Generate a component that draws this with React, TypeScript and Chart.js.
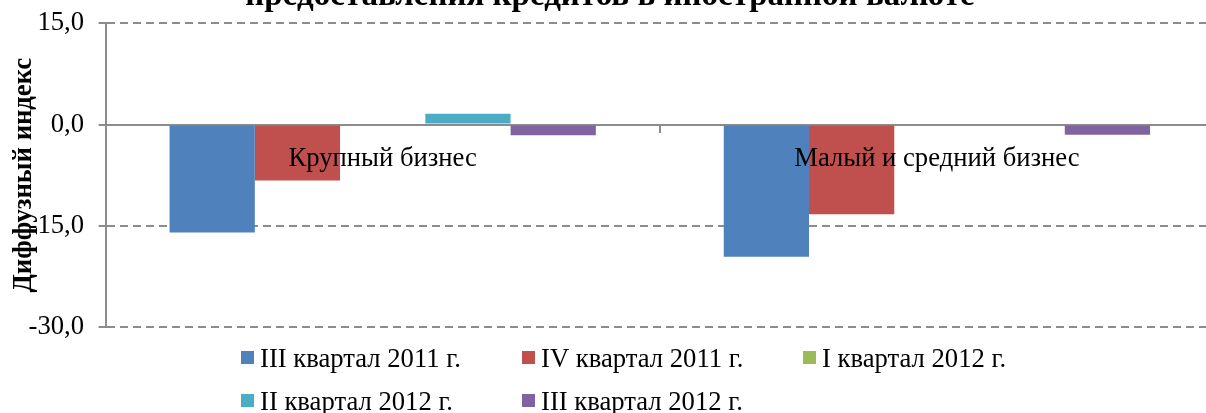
import React, { useEffect, useRef } from "react";
import { Chart, registerables } from "chart.js";

Chart.register(...registerables);

const categories = ["Крупный бизнес", "Малый и средний бизнес"];
const seriesLabels = [
  "III квартал 2011 г.",
  "IV квартал 2011 г.",
  "I квартал 2012 г.",
  "II квартал 2012 г.",
  "III квартал 2012 г.",
];
const q3_2011 = [-16.0, -19.6];
const q4_2011 = [-8.3, -13.3];
const q1_2012 = [0.0, 0.0];
const q2_2012 = [1.6, 0.0];
const q3_2012 = [-1.6, -1.5];
const yMin = -30;
const yMax = 15;
const yStep = 15;
const titleText = "предоставления кредитов в иностранной валюте";
const yTitle = "Диффузный индекс";

const colors = ["#4F81BD", "#C0504D", "#9BBB59", "#4BACC6", "#8064A2"];
const FONT = "'Liberation Serif', 'Times New Roman', serif";
const GRID = "#8C8C8C";

const overlayPlugin = {
  id: "overlay",
  afterDraw(chart: any) {
    const ctx = chart.ctx;
    const xs = chart.scales.x;
    const ys = chart.scales.y;
    ctx.save();
    // title (second line, mostly clipped at top)
    ctx.fillStyle = "#000";
    ctx.font = `bold 33px ${FONT}`;
    ctx.textAlign = "center";
    ctx.textBaseline = "alphabetic";
    ctx.fillText(titleText, 610, 5);
    // category labels, drawn over the bars just below the zero line
    ctx.font = `26.67px ${FONT}`;
    const zeroY = ys.getPixelForValue(0);
    chart.data.labels.forEach((lab: string, i: number) => {
      ctx.fillText(lab, xs.getPixelForValue(i), zeroY + 41);
    });
    // legend
    ctx.textAlign = "left";
    chart.data.datasets.forEach((ds: any, i: number) => {
      const row = i < 3 ? 0 : 1;
      const col = i % 3;
      const x = 241 + col * 281;
      const base = 367 + row * 43;
      ctx.fillStyle = ds.backgroundColor;
      ctx.fillRect(x, base - 16, 13, 13);
      ctx.fillStyle = "#000";
      ctx.fillText(ds.label, x + 19, base);
    });
    ctx.restore();
  },
};

export default function App() {
  const ref = useRef<HTMLCanvasElement | null>(null);
  useEffect(() => {
    if (!ref.current) return;
    const series = [q3_2011, q4_2011, q1_2012, q2_2012, q3_2012];
    const chart = new Chart(ref.current, {
      type: "bar",
      data: {
        labels: categories,
        datasets: series.map((d, i) => ({
          label: seriesLabels[i],
          data: d,
          backgroundColor: colors[i],
          borderWidth: 0,
          categoryPercentage: 5 / 6.5,
          barPercentage: 1,
        })),
      },
      options: {
        responsive: false,
        animation: false,
        devicePixelRatio: 1,
        layout: { padding: { top: 23.3, bottom: 86, left: 0, right: 0 } },
        plugins: {
          legend: { display: false },
          title: { display: false },
          tooltip: { enabled: false },
        },
        scales: {
          x: {
            position: { y: 0 } as any,
            z: 1,
            offset: true,
            grid: {
              display: true,
              drawOnChartArea: false,
              drawTicks: true,
              tickLength: 7,
              color: GRID,
              lineWidth: 2,
              offset: true,
            },
            border: { display: true, color: GRID, width: 2 },
            ticks: { display: false },
          },
          y: {
            min: yMin,
            max: yMax,
            afterFit: (s: any) => {
              s.width = 105.6;
              s.paddingTop = 0;
              s.paddingBottom = 0;
            },
            ticks: {
              stepSize: yStep,
              color: "#000",
              padding: 14.5,
              font: { family: FONT, size: 26.67 },
              callback: (v: any) => Number(v).toFixed(1).replace(".", ","),
            },
            grid: {
              color: GRID,
              lineWidth: 2,
              tickLength: 7,
              drawTicks: true,
            },
            border: { display: true, color: GRID, width: 2, dash: [8, 5] },
            title: {
              display: true,
              text: yTitle,
              color: "#000",
              font: { family: FONT, size: 26.67, weight: "bold" },
              padding: { top: 8, bottom: 0 },
            },
          },
        },
      },
      plugins: [overlayPlugin],
    });
    return () => chart.destroy();
  }, []);
  return (
    <div
      style={{
        position: "fixed",
        left: 0,
        top: 0,
        width: 1206,
        height: 413,
        overflow: "hidden",
        background: "#fff",
      }}
    >
      <canvas ref={ref} width={1214} height={413} style={{ display: "block" }} />
    </div>
  );
}
